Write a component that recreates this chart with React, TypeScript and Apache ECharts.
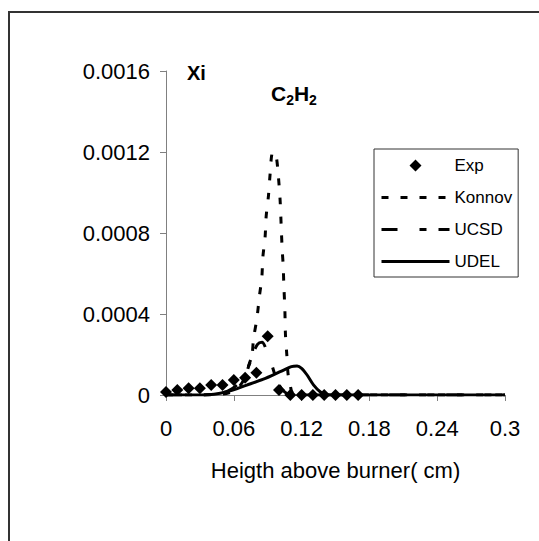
import React, { useEffect, useRef } from "react";
import * as echarts from "echarts";

const FONT = "'Liberation Sans', Arial, sans-serif";

const seriesNames = ["Exp", "Konnov", "UCSD", "UDEL"];

const expX = [0, 0.01, 0.02, 0.03, 0.04, 0.05, 0.06, 0.07, 0.08, 0.09, 0.1, 0.11, 0.12, 0.13, 0.14, 0.15, 0.16, 0.17];
const expY = [0.000015, 0.000025, 0.000033, 0.000033, 0.000049, 0.000049, 0.000074, 0.000085, 0.00011, 0.00029, 0.000025, 0, 0, 0, 0, 0, 0, 0];

const konnovX = [0, 0.03, 0.05, 0.06, 0.066, 0.07, 0.073, 0.076, 0.0775, 0.0805, 0.0827, 0.0848, 0.0857, 0.0877, 0.0886, 0.0906, 0.0921, 0.0937, 0.0955, 0.0975, 0.0993, 0.101, 0.1019, 0.1028, 0.1037, 0.1043, 0.1052, 0.1057, 0.1069, 0.1081, 0.1099, 0.112, 0.12, 0.3];
const konnovY = [0, 0, 0.000005, 0.00002, 0.00005, 0.00009, 0.00014, 0.00019, 0.00028, 0.00038, 0.00049, 0.00058, 0.00068, 0.00078, 0.00088, 0.00098, 0.00109, 0.00119, 0.0012, 0.00118, 0.00109, 0.00096, 0.00084, 0.00072, 0.00064, 0.00054, 0.00042, 0.0003, 0.0002, 0.0001, 0.00005, 0.00001, 0, 0];

const ucsdX = [0, 0.03, 0.045, 0.055, 0.063, 0.07, 0.076, 0.081, 0.085, 0.089, 0.093, 0.097, 0.1, 0.104, 0.11, 0.3];
const ucsdY = [0, 0, 0.000005, 0.00002, 0.00005, 0.0001, 0.00019, 0.00025, 0.00026, 0.00022, 0.00016, 0.00009, 0.00005, 0.00002, 0, 0];

const udelX = [0, 0.033, 0.054, 0.0715, 0.0862, 0.101, 0.111, 0.116, 0.12, 0.1247, 0.1305, 0.1364, 0.1424, 0.3];
const udelY = [0, 0, 0.000016, 0.000049, 0.000078, 0.000115, 0.00014, 0.000143, 0.000132, 0.0001, 0.00005, 0.000016, 0, 0];

const xTicks = { min: 0, max: 0.3, interval: 0.06 };
const yTicks = { min: 0, max: 0.0016, interval: 0.0004 };

const xTitle = "Heigth above burner( cm)";
const yTitle = "Xi";

const zip = (xs: number[], ys: number[]) => xs.map((x, i) => [x, ys[i]]);

// diamond centred in a 68x12 box (tiny end segments fix the bounding box)
const DIAMOND_ICON =
  "path://M0,6L0.01,6L0,6.01Z M68,6L67.99,6L68,6.01Z M34,0L40,6L34,12L28,6Z";

export default function App() {
  const ref = useRef<HTMLDivElement>(null);
  useEffect(() => {
    if (!ref.current) return;
    const chart = echarts.init(ref.current, undefined, { renderer: "svg" });
    chart.setOption({
      animation: false,
      backgroundColor: "#ffffff",
      textStyle: { fontFamily: FONT },
      grid: { left: 166, right: 34, top: 71, bottom: 146 },
      xAxis: {
        type: "value",
        min: xTicks.min,
        max: xTicks.max,
        interval: xTicks.interval,
        name: xTitle,
        nameLocation: "middle",
        nameGap: 64,
        nameTextStyle: { fontSize: 22, color: "#000", fontFamily: FONT },
        axisLine: { lineStyle: { color: "#808080", width: 1 } },
        axisTick: { show: true, length: 6, lineStyle: { color: "#808080" } },
        axisLabel: {
          fontSize: 22,
          color: "#000",
          margin: 22,
          fontFamily: FONT,
          formatter: (v: number) => String(parseFloat(v.toFixed(4))),
        },
        splitLine: { show: false },
      },
      yAxis: {
        type: "value",
        min: yTicks.min,
        max: yTicks.max,
        interval: yTicks.interval,
        axisLine: { show: true, lineStyle: { color: "#808080", width: 1 } },
        axisTick: { show: true, length: 6, lineStyle: { color: "#808080" } },
        axisLabel: {
          fontSize: 22,
          color: "#000",
          margin: 16,
          fontFamily: FONT,
          formatter: (v: number) => (v === 0 ? "0" : v.toFixed(4)),
        },
        splitLine: { show: false },
      },
      legend: {
        orient: "vertical",
        left: 374,
        top: 149,
        data: seriesNames.map((n) =>
          n === "Exp"
            ? { name: n, icon: DIAMOND_ICON, itemStyle: { color: "#000", opacity: 1, borderWidth: 0 } }
            : { name: n, itemStyle: { opacity: 0 } }
        ),
        itemWidth: 68,
        itemHeight: 12,
        itemGap: 15,
        padding: [8, 6, 7, 6],
        borderColor: "#333",
        borderWidth: 1,
        backgroundColor: "#fff",
        lineStyle: { width: 3 },
        textStyle: { fontSize: 17, lineHeight: 17, color: "#000", fontFamily: FONT },
      },
      graphic: [
        {
          type: "rect",
          shape: { x: 9, y: 12, width: 600, height: 600 },
          style: { fill: "none", stroke: "#333", lineWidth: 2 },
          silent: true,
        },
        {
          type: "text",
          left: 187,
          top: 63,
          style: { text: yTitle, font: `bold 20px ${FONT}`, fill: "#000" },
        },
        {
          type: "text",
          left: 271,
          top: 83,
          style: {
            text: "{b|C}{s|2}{b|H}{s|2}",
            fill: "#000",
            rich: {
              b: { fontSize: 21, fontWeight: "bold", fontFamily: FONT, lineHeight: 24, verticalAlign: "bottom" },
              s: { fontSize: 14, fontWeight: "bold", fontFamily: FONT, lineHeight: 24, verticalAlign: "bottom", padding: [0, 0, -3, 0] },
            },
          },
        },
      ],
      series: [
        {
          name: "Exp",
          type: "scatter",
          symbol: "diamond",
          symbolSize: 12,
          itemStyle: { color: "#000", opacity: 1 },
          data: zip(expX, expY),
          z: 5,
        },
        {
          name: "Konnov",
          type: "line",
          showSymbol: false,
          symbol: "none",
          smooth: 0.3,
          color: "#000",
          lineStyle: { color: "#000", width: 3, type: [7, 12] },
          data: zip(konnovX, konnovY),
        },
        {
          name: "UCSD",
          type: "line",
          showSymbol: false,
          symbol: "none",
          smooth: 0.3,
          color: "#000",
          lineStyle: { color: "#000", width: 3, type: [16, 22, 7, 12] },
          data: zip(ucsdX, ucsdY),
        },
        {
          name: "UDEL",
          type: "line",
          showSymbol: false,
          symbol: "none",
          smooth: 0.3,
          color: "#000",
          lineStyle: { color: "#000", width: 3, type: "solid" },
          data: zip(udelX, udelY),
        },
      ],
    });
    return () => chart.dispose();
  }, []);
  return (
    <div
      ref={ref}
      style={{ position: "fixed", left: 0, top: 0, width: 539, height: 541 }}
    />
  );
}
